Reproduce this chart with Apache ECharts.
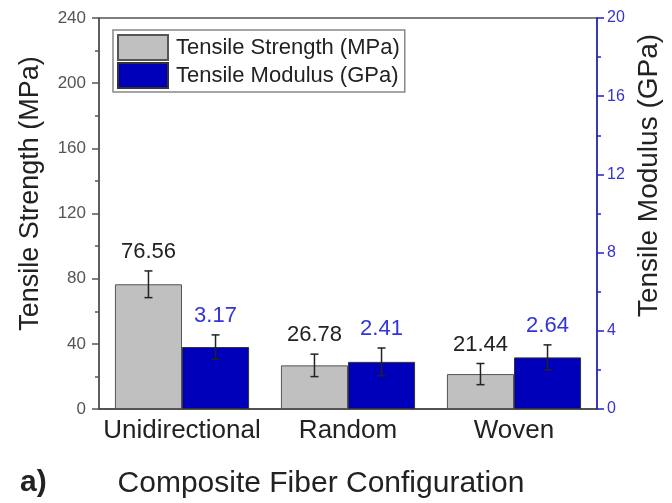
<!DOCTYPE html>
<html>
<head>
<meta charset="utf-8">
<script src="https://cdn.jsdelivr.net/npm/echarts@6/dist/echarts.min.js"></script>
<style>
html,body{margin:0;padding:0;background:#fff;}
#chart{width:672px;height:503px;}
</style>
</head>
<body>
<div id="chart"></div>
<script>
var categories = ['Unidirectional', 'Random', 'Woven'];
var strengthValues = [76.56, 26.78, 21.44];
var strengthErrors = [8.2, 6.9, 6.5];
var modulusValues = [3.17, 2.41, 2.64];
var modulusErrors = [0.62, 0.71, 0.64];
var strengthLabels = ['76.56', '26.78', '21.44'];
var modulusLabels = ['3.17', '2.41', '2.64'];
var leftTicks = [0, 40, 80, 120, 160, 200, 240];
var rightTicks = [0, 4, 8, 12, 16, 20];

var FONT = '"Liberation Sans", Arial, sans-serif';
var BAR_FRAC = 0.404;
var chart = echarts.init(document.getElementById('chart'), null, {renderer: 'canvas'});

function errRender(values, errors, labels, side, labelColor) {
  return function (params, api) {
    var i = api.value(0);
    var v = values[i], e = errors[i];
    var center = api.coord([i, v]);
    var band = api.size([1, 0])[0];
    var bw = band * BAR_FRAC;
    var x = center[0] + side * bw / 2;
    var top = api.coord([i, v + e])[1];
    var bot = api.coord([i, v - e])[1];
    var cap = 4;
    var ls = {stroke: '#222', lineWidth: 1.5};
    return {
      type: 'group',
      children: [
        {type: 'line', shape: {x1: x, y1: top, x2: x, y2: bot}, style: ls},
        {type: 'line', shape: {x1: x - cap, y1: top, x2: x + cap, y2: top}, style: ls},
        {type: 'line', shape: {x1: x - cap, y1: bot, x2: x + cap, y2: bot}, style: ls},
        {type: 'text', x: x, y: top - 8, style: {text: labels[i], fill: labelColor, font: '22px ' + FONT, align: 'center', verticalAlign: 'bottom'}}
      ]
    };
  };
}

var idx = categories.map(function (c, i) { return [i]; });

var option = {
  animation: false,
  backgroundColor: '#fff',
  grid: {left: 99, right: 75, top: 18, bottom: 94, show: true, borderColor: '#555', borderWidth: 1.5, outerBoundsMode: 'none', containLabel: false},
  legend: {
    orient: 'vertical', left: 113, top: 30,
    padding: [4, 5, 3, 4], itemGap: 1, itemWidth: 50, itemHeight: 25,
    borderColor: '#888', borderWidth: 1.5, backgroundColor: '#fff',
    icon: 'rect',
    textStyle: {fontSize: 22, fontFamily: FONT, color: '#222', padding: [0, 0, 0, 3]},
    data: ['Tensile Strength (MPa)', 'Tensile Modulus (GPa)']
  },
  xAxis: [{
    type: 'category', data: categories, position: 'bottom',
    axisLine: {lineStyle: {color: '#444', width: 1.5}},
    axisTick: {alignWithLabel: true, length: 6, lineStyle: {color: '#444', width: 1.5}},
    axisLabel: {fontSize: 26, fontFamily: FONT, color: '#222', margin: 9, interval: 0, hideOverlap: false},
    name: 'Composite Fiber Configuration', nameLocation: 'middle', nameGap: 60,
    nameTextStyle: {fontSize: 30, fontFamily: FONT, color: '#222', padding: [0, 54, 0, 0]}
  }],
  yAxis: [{
    type: 'value', min: 0, max: 240, interval: 40, position: 'left',
    axisLine: {show: true, lineStyle: {color: '#555', width: 1.5}},
    axisTick: {show: true, length: 7, lineStyle: {color: '#555', width: 1.5}},
    minorTick: {show: true, splitNumber: 2, length: 4, lineStyle: {color: '#555', width: 1.5}},
    splitLine: {show: false},
    axisLabel: {fontSize: 17, fontFamily: FONT, color: '#555', margin: 13},
    name: 'Tensile Strength (MPa)', nameLocation: 'middle', nameGap: 55, nameRotate: 90,
    nameTextStyle: {fontSize: 27, fontFamily: FONT, color: '#222', padding: [0, 0, 0, 40]}
  }, {
    type: 'value', min: 0, max: 20, interval: 4, position: 'right',
    axisLine: {show: true, lineStyle: {color: '#2222c8', width: 1.5}},
    axisTick: {show: true, length: 7, lineStyle: {color: '#2222c8', width: 1.5}},
    minorTick: {show: true, splitNumber: 2, length: 4, lineStyle: {color: '#2222c8', width: 1.5}},
    splitLine: {show: false},
    axisLabel: {fontSize: 16, fontFamily: FONT, color: '#3535c8', margin: 10},
    name: 'Tensile Modulus (GPa)', nameLocation: 'middle', nameGap: 34, nameRotate: 90,
    nameTextStyle: {fontSize: 28, fontFamily: FONT, color: '#222', padding: [0, 0, 0, 76]}
  }],
  series: [{
    name: 'Tensile Strength (MPa)', type: 'bar', xAxisIndex: 0, yAxisIndex: 0,
    data: strengthValues, barWidth: (BAR_FRAC * 100) + '%', barGap: '0%',
    itemStyle: {color: '#c0c0c0', borderColor: '#555', borderWidth: 1}
  }, {
    name: 'Tensile Modulus (GPa)', type: 'bar', xAxisIndex: 0, yAxisIndex: 1,
    data: modulusValues, barWidth: (BAR_FRAC * 100) + '%', barGap: '0%',
    itemStyle: {color: '#0000bb', borderColor: '#333', borderWidth: 1}
  }, {
    type: 'custom', xAxisIndex: 0, yAxisIndex: 0, data: idx, z: 10,
    renderItem: errRender(strengthValues, strengthErrors, strengthLabels, -1, '#222'),
    silent: true
  }, {
    type: 'custom', xAxisIndex: 0, yAxisIndex: 1, data: idx, z: 10,
    renderItem: errRender(modulusValues, modulusErrors, modulusLabels, 1, '#3333dd'),
    silent: true
  }],
  graphic: [{
    type: 'text', left: 20, top: 468,
    style: {text: 'a)', font: 'bold 30px ' + FONT, fill: '#222'}
  }]
};
chart.setOption(option);
</script>
</body>
</html>
